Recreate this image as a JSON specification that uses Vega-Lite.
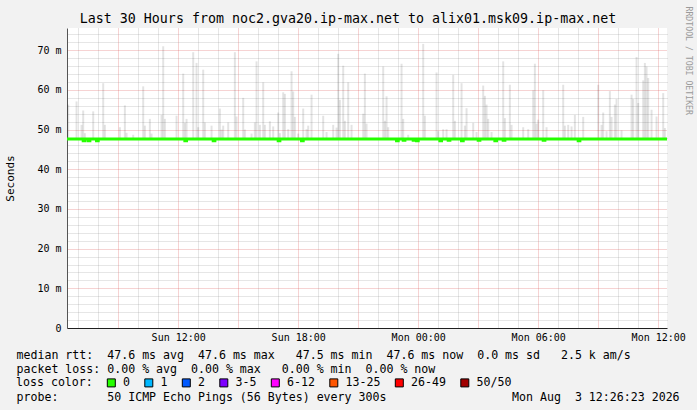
{
  "$schema": "https://vega.github.io/schema/vega-lite/v6.json",
  "width": 600,
  "height": 300,
  "autosize": "none",
  "padding": {"left": 67, "top": 28, "right": 30, "bottom": 82},
  "background": "#f2f2f2",
  "title": {
    "text": "Last 30 Hours from noc2.gva20.ip-max.net to alix01.msk09.ip-max.net",
    "anchor": "middle",
    "frame": "group",
    "dx": -19,
    "dy": 34,
    "offset": 4,
    "baseline": "alphabetic",
    "font": "DejaVu Sans Mono",
    "fontSize": 13.3,
    "fontWeight": "normal",
    "color": "#000000"
  },
  "config": {
    "view": {"fill": "#ffffff", "stroke": null},
    "font": "DejaVu Sans Mono"
  },
  "datasets": {
    "spikes": [
      {"t": "2026-08-02T06:30", "hi": 56.3},
      {"t": "2026-08-02T06:55", "hi": 57.1},
      {"t": "2026-08-02T07:10", "hi": 51.2},
      {"t": "2026-08-02T07:15", "hi": 54.8},
      {"t": "2026-08-02T07:20", "hi": 49.1},
      {"t": "2026-08-02T07:45", "hi": 54.6},
      {"t": "2026-08-02T08:15", "hi": 61.7},
      {"t": "2026-08-02T08:20", "hi": 51.2},
      {"t": "2026-08-02T09:05", "hi": 50.6},
      {"t": "2026-08-02T09:20", "hi": 56.1},
      {"t": "2026-08-02T09:25", "hi": 49.2},
      {"t": "2026-08-02T09:45", "hi": 48.7},
      {"t": "2026-08-02T10:15", "hi": 60.9},
      {"t": "2026-08-02T10:20", "hi": 51.0},
      {"t": "2026-08-02T10:35", "hi": 52.7},
      {"t": "2026-08-02T10:40", "hi": 49.0},
      {"t": "2026-08-02T11:10", "hi": 53.7},
      {"t": "2026-08-02T11:15", "hi": 71.0},
      {"t": "2026-08-02T11:20", "hi": 52.7},
      {"t": "2026-08-02T11:55", "hi": 53.5},
      {"t": "2026-08-02T12:15", "hi": 64.1},
      {"t": "2026-08-02T12:20", "hi": 51.7},
      {"t": "2026-08-02T12:25", "hi": 52.7},
      {"t": "2026-08-02T12:45", "hi": 69.5},
      {"t": "2026-08-02T12:55", "hi": 66.8},
      {"t": "2026-08-02T13:00", "hi": 50.6},
      {"t": "2026-08-02T13:15", "hi": 65.1},
      {"t": "2026-08-02T13:20", "hi": 51.8},
      {"t": "2026-08-02T13:40", "hi": 51.0},
      {"t": "2026-08-02T14:05", "hi": 55.3},
      {"t": "2026-08-02T14:10", "hi": 50.0},
      {"t": "2026-08-02T14:15", "hi": 51.0},
      {"t": "2026-08-02T14:30", "hi": 51.8},
      {"t": "2026-08-02T14:50", "hi": 69.5},
      {"t": "2026-08-02T14:55", "hi": 53.3},
      {"t": "2026-08-02T15:15", "hi": 58.0},
      {"t": "2026-08-02T15:20", "hi": 50.0},
      {"t": "2026-08-02T15:40", "hi": 49.0},
      {"t": "2026-08-02T15:50", "hi": 51.8},
      {"t": "2026-08-02T15:55", "hi": 67.2},
      {"t": "2026-08-02T16:05", "hi": 51.2},
      {"t": "2026-08-02T16:15", "hi": 61.9},
      {"t": "2026-08-02T16:20", "hi": 51.2},
      {"t": "2026-08-02T16:35", "hi": 52.1},
      {"t": "2026-08-02T16:45", "hi": 50.8},
      {"t": "2026-08-02T17:00", "hi": 54.3},
      {"t": "2026-08-02T17:05", "hi": 49.1},
      {"t": "2026-08-02T17:15", "hi": 59.4},
      {"t": "2026-08-02T17:20", "hi": 59.0},
      {"t": "2026-08-02T17:30", "hi": 50.1},
      {"t": "2026-08-02T17:40", "hi": 64.7},
      {"t": "2026-08-02T17:45", "hi": 59.6},
      {"t": "2026-08-02T17:50", "hi": 53.2},
      {"t": "2026-08-02T18:00", "hi": 49.0},
      {"t": "2026-08-02T18:15", "hi": 55.3},
      {"t": "2026-08-02T18:25", "hi": 50.1},
      {"t": "2026-08-02T18:30", "hi": 51.0},
      {"t": "2026-08-02T18:40", "hi": 58.8},
      {"t": "2026-08-02T19:15", "hi": 53.5},
      {"t": "2026-08-02T19:25", "hi": 49.4},
      {"t": "2026-08-02T19:45", "hi": 51.2},
      {"t": "2026-08-02T19:55", "hi": 50.5},
      {"t": "2026-08-02T20:00", "hi": 69.1},
      {"t": "2026-08-02T20:05", "hi": 57.5},
      {"t": "2026-08-02T20:15", "hi": 66.1},
      {"t": "2026-08-02T20:20", "hi": 52.2},
      {"t": "2026-08-02T20:30", "hi": 61.9},
      {"t": "2026-08-02T20:40", "hi": 51.2},
      {"t": "2026-08-02T21:15", "hi": 54.0},
      {"t": "2026-08-02T21:20", "hi": 64.1},
      {"t": "2026-08-02T21:25", "hi": 51.5},
      {"t": "2026-08-02T22:15", "hi": 65.9},
      {"t": "2026-08-02T22:20", "hi": 52.2},
      {"t": "2026-08-02T22:25", "hi": 58.4},
      {"t": "2026-08-02T22:30", "hi": 50.6},
      {"t": "2026-08-02T23:10", "hi": 66.6},
      {"t": "2026-08-02T23:15", "hi": 52.7},
      {"t": "2026-08-02T23:30", "hi": 48.7},
      {"t": "2026-08-03T00:15", "hi": 71.6},
      {"t": "2026-08-03T00:20", "hi": 53.5},
      {"t": "2026-08-03T00:55", "hi": 64.4},
      {"t": "2026-08-03T01:00", "hi": 49.6},
      {"t": "2026-08-03T01:15", "hi": 50.1},
      {"t": "2026-08-03T01:25", "hi": 50.1},
      {"t": "2026-08-03T01:45", "hi": 63.8},
      {"t": "2026-08-03T01:50", "hi": 52.2},
      {"t": "2026-08-03T02:10", "hi": 61.7},
      {"t": "2026-08-03T02:20", "hi": 51.0},
      {"t": "2026-08-03T02:25", "hi": 55.4},
      {"t": "2026-08-03T02:45", "hi": 51.7},
      {"t": "2026-08-03T02:55", "hi": 49.4},
      {"t": "2026-08-03T03:15", "hi": 61.1},
      {"t": "2026-08-03T03:20", "hi": 58.5},
      {"t": "2026-08-03T03:25", "hi": 56.3},
      {"t": "2026-08-03T03:30", "hi": 52.7},
      {"t": "2026-08-03T03:40", "hi": 49.4},
      {"t": "2026-08-03T04:15", "hi": 67.2},
      {"t": "2026-08-03T04:20", "hi": 52.9},
      {"t": "2026-08-03T04:35", "hi": 61.3},
      {"t": "2026-08-03T04:40", "hi": 51.2},
      {"t": "2026-08-03T05:15", "hi": 50.6},
      {"t": "2026-08-03T05:30", "hi": 50.1},
      {"t": "2026-08-03T05:45", "hi": 59.9},
      {"t": "2026-08-03T05:50", "hi": 66.6},
      {"t": "2026-08-03T05:55", "hi": 51.5},
      {"t": "2026-08-03T06:00", "hi": 52.5},
      {"t": "2026-08-03T06:15", "hi": 59.9},
      {"t": "2026-08-03T06:25", "hi": 50.6},
      {"t": "2026-08-03T07:15", "hi": 61.3},
      {"t": "2026-08-03T07:20", "hi": 51.0},
      {"t": "2026-08-03T07:30", "hi": 51.2},
      {"t": "2026-08-03T07:40", "hi": 50.8},
      {"t": "2026-08-03T07:50", "hi": 53.7},
      {"t": "2026-08-03T08:15", "hi": 53.2},
      {"t": "2026-08-03T09:00", "hi": 61.3},
      {"t": "2026-08-03T09:10", "hi": 51.2},
      {"t": "2026-08-03T09:15", "hi": 54.3},
      {"t": "2026-08-03T09:25", "hi": 49.6},
      {"t": "2026-08-03T09:35", "hi": 59.7},
      {"t": "2026-08-03T09:40", "hi": 53.2},
      {"t": "2026-08-03T09:50", "hi": 56.3},
      {"t": "2026-08-03T09:55", "hi": 57.7},
      {"t": "2026-08-03T10:10", "hi": 49.8},
      {"t": "2026-08-03T10:40", "hi": 58.8},
      {"t": "2026-08-03T10:45", "hi": 57.7},
      {"t": "2026-08-03T10:55", "hi": 68.3},
      {"t": "2026-08-03T11:00", "hi": 56.7},
      {"t": "2026-08-03T11:15", "hi": 62.4},
      {"t": "2026-08-03T11:20", "hi": 66.8},
      {"t": "2026-08-03T11:25", "hi": 65.9},
      {"t": "2026-08-03T11:30", "hi": 63.0},
      {"t": "2026-08-03T11:40", "hi": 55.0},
      {"t": "2026-08-03T11:55", "hi": 53.3},
      {"t": "2026-08-03T12:15", "hi": 59.2},
      {"t": "2026-08-03T12:20", "hi": 50.4}
    ],
    "median": [
      {"t": "2026-08-02T06:26:23", "med": 47.6, "loss": "0"},
      {"t": "2026-08-02T07:15", "med": 47.2, "loss": "0"},
      {"t": "2026-08-02T07:20", "med": 47.6, "loss": "0"},
      {"t": "2026-08-02T07:30", "med": 47.2, "loss": "0"},
      {"t": "2026-08-02T07:35", "med": 47.6, "loss": "0"},
      {"t": "2026-08-02T07:55", "med": 47.2, "loss": "0"},
      {"t": "2026-08-02T08:00", "med": 47.6, "loss": "0"},
      {"t": "2026-08-02T12:20", "med": 47.2, "loss": "0"},
      {"t": "2026-08-02T12:25", "med": 47.6, "loss": "0"},
      {"t": "2026-08-02T13:45", "med": 47.2, "loss": "0"},
      {"t": "2026-08-02T13:50", "med": 47.6, "loss": "0"},
      {"t": "2026-08-02T17:00", "med": 47.2, "loss": "0"},
      {"t": "2026-08-02T17:05", "med": 47.6, "loss": "0"},
      {"t": "2026-08-02T18:10", "med": 47.2, "loss": "0"},
      {"t": "2026-08-02T18:15", "med": 47.6, "loss": "0"},
      {"t": "2026-08-02T22:55", "med": 47.2, "loss": "0"},
      {"t": "2026-08-02T23:00", "med": 47.6, "loss": "0"},
      {"t": "2026-08-02T23:15", "med": 47.3, "loss": "0"},
      {"t": "2026-08-02T23:20", "med": 47.6, "loss": "0"},
      {"t": "2026-08-02T23:45", "med": 47.3, "loss": "0"},
      {"t": "2026-08-02T23:50", "med": 47.6, "loss": "0"},
      {"t": "2026-08-02T23:55", "med": 47.2, "loss": "0"},
      {"t": "2026-08-03T00:00", "med": 47.6, "loss": "0"},
      {"t": "2026-08-03T01:05", "med": 47.2, "loss": "0"},
      {"t": "2026-08-03T01:10", "med": 47.6, "loss": "0"},
      {"t": "2026-08-03T01:30", "med": 47.3, "loss": "0"},
      {"t": "2026-08-03T01:35", "med": 47.6, "loss": "0"},
      {"t": "2026-08-03T02:10", "med": 47.2, "loss": "0"},
      {"t": "2026-08-03T02:15", "med": 47.6, "loss": "0"},
      {"t": "2026-08-03T03:00", "med": 47.3, "loss": "0"},
      {"t": "2026-08-03T03:05", "med": 47.6, "loss": "0"},
      {"t": "2026-08-03T03:50", "med": 47.2, "loss": "0"},
      {"t": "2026-08-03T03:55", "med": 47.6, "loss": "0"},
      {"t": "2026-08-03T04:15", "med": 47.3, "loss": "0"},
      {"t": "2026-08-03T04:20", "med": 47.6, "loss": "0"},
      {"t": "2026-08-03T06:15", "med": 47.3, "loss": "0"},
      {"t": "2026-08-03T06:20", "med": 47.6, "loss": "0"},
      {"t": "2026-08-03T08:00", "med": 47.2, "loss": "0"},
      {"t": "2026-08-03T08:05", "med": 47.6, "loss": "0"},
      {"t": "2026-08-03T12:26:23", "med": 47.6, "loss": "0"}
    ]
  },
  "layer": [
    {
      "data": {"name": "spikes"},
      "mark": {"type": "bar", "width": 2, "color": "#000000", "opacity": 0.11},
      "encoding": {
        "x": {
          "field": "t",
          "type": "temporal",
          "scale": {
            "domain": [
              {"year": 2026, "month": 8, "date": 2, "hours": 6, "minutes": 26, "seconds": 23},
              {"year": 2026, "month": 8, "date": 3, "hours": 12, "minutes": 26, "seconds": 23}
            ],
            "nice": false,
            "padding": 0
          },
          "axis": {
            "orient": "bottom",
            "values": [
              {"year": 2026, "month": 8, "date": 2, "hours": 7},
              {"year": 2026, "month": 8, "date": 2, "hours": 8},
              {"year": 2026, "month": 8, "date": 2, "hours": 10},
              {"year": 2026, "month": 8, "date": 2, "hours": 11},
              {"year": 2026, "month": 8, "date": 2, "hours": 13},
              {"year": 2026, "month": 8, "date": 2, "hours": 14},
              {"year": 2026, "month": 8, "date": 2, "hours": 16},
              {"year": 2026, "month": 8, "date": 2, "hours": 17},
              {"year": 2026, "month": 8, "date": 2, "hours": 19},
              {"year": 2026, "month": 8, "date": 2, "hours": 20},
              {"year": 2026, "month": 8, "date": 2, "hours": 22},
              {"year": 2026, "month": 8, "date": 2, "hours": 23},
              {"year": 2026, "month": 8, "date": 3, "hours": 1},
              {"year": 2026, "month": 8, "date": 3, "hours": 2},
              {"year": 2026, "month": 8, "date": 3, "hours": 4},
              {"year": 2026, "month": 8, "date": 3, "hours": 5},
              {"year": 2026, "month": 8, "date": 3, "hours": 7},
              {"year": 2026, "month": 8, "date": 3, "hours": 8},
              {"year": 2026, "month": 8, "date": 3, "hours": 10},
              {"year": 2026, "month": 8, "date": 3, "hours": 11}
            ],
            "grid": true,
            "gridColor": "#8f8f8f",
            "gridOpacity": 0.45,
            "gridDash": [1, 1],
            "labels": false,
            "ticks": false,
            "domain": false,
            "title": "probe:\u00a0\u00a0\u00a0\u00a0\u00a0\u00a0\u00a050 ICMP Echo Pings (56 Bytes) every 300s\u00a0\u00a0\u00a0\u00a0\u00a0\u00a0\u00a0\u00a0\u00a0\u00a0\u00a0\u00a0\u00a0\u00a0\u00a0\u00a0\u00a0\u00a0Mon Aug\u00a0\u00a03 12:26:23 2026",
            "titleX": -51,
            "titleY": 72.3,
            "titleAlign": "left",
            "titleAnchor": "start",
            "titleBaseline": "alphabetic",
            "titleFont": "DejaVu Sans Mono",
            "titleFontSize": 11.6,
            "titleFontWeight": "normal",
            "titleColor": "#000000"
          }
        },
        "y": {
          "field": "hi",
          "type": "quantitative",
          "scale": {"domain": [0, 75.6], "nice": false, "zero": true},
          "axis": {
            "orient": "right",
            "values": [2, 4, 6, 8, 12, 14, 16, 18, 22, 24, 26, 28, 32, 34, 36, 38, 42, 44, 46, 48, 52, 54, 56, 58, 62, 64, 66, 68, 72, 74],
            "grid": true,
            "gridColor": "#8f8f8f",
            "gridOpacity": 0.45,
            "gridDash": [1, 1],
            "labels": false,
            "ticks": false,
            "domain": false,
            "title": "RRDTOOL / TOBI OETIKER",
            "titleAngle": 90,
            "titleX": 20.5,
            "titleY": -22,
            "titleAlign": "left",
            "titleBaseline": "middle",
            "titleFont": "DejaVu Sans Mono",
            "titleFontSize": 8.2,
            "titleFontWeight": "normal",
            "titleColor": "#9a9a9a"
          }
        },
        "y2": {"datum": 47.6}
      }
    },
    {
      "data": {"name": "median"},
      "mark": {"type": "line", "strokeWidth": 3, "interpolate": "step-after", "color": "#26ff00"},
      "encoding": {
        "x": {
          "field": "t",
          "type": "temporal",
          "axis": {
            "orient": "bottom",
            "values": [
              {"year": 2026, "month": 8, "date": 2, "hours": 9},
              {"year": 2026, "month": 8, "date": 2, "hours": 12},
              {"year": 2026, "month": 8, "date": 2, "hours": 15},
              {"year": 2026, "month": 8, "date": 2, "hours": 18},
              {"year": 2026, "month": 8, "date": 2, "hours": 21},
              {"year": 2026, "month": 8, "date": 3, "hours": 0},
              {"year": 2026, "month": 8, "date": 3, "hours": 3},
              {"year": 2026, "month": 8, "date": 3, "hours": 6},
              {"year": 2026, "month": 8, "date": 3, "hours": 9},
              {"year": 2026, "month": 8, "date": 3, "hours": 12}
            ],
            "grid": true,
            "gridColor": "#de4f4f",
            "gridOpacity": 0.5,
            "gridDash": [1, 1],
            "ticks": false,
            "tickSize": 0,
            "labelExpr": "hours(datum.value) % 6 == 0 ? timeFormat(datum.value, '%a %H:%M') : ''",
            "labelFont": "DejaVu Sans Mono",
            "labelFontSize": 10,
            "labelColor": "#000000",
            "labelPadding": 4,
            "labelFlush": false,
            "labelOverlap": false,
            "labelBound": false,
            "domain": true,
            "domainColor": "#1f1f1f",
            "domainWidth": 1,
            "title": [
              "median rtt:\u00a0\u00a047.6 ms avg\u00a0\u00a047.6 ms max\u00a0\u00a0\u00a047.5 ms min\u00a0\u00a047.6 ms now\u00a0\u00a00.0 ms sd\u00a0\u00a0\u00a02.5 k am/s",
              "packet loss: 0.00 % avg\u00a0\u00a00.00 % max\u00a0\u00a0\u00a00.00 % min\u00a0\u00a00.00 % now"
            ],
            "titleX": -51,
            "titleY": 30.3,
            "titleAlign": "left",
            "titleAnchor": "start",
            "titleBaseline": "alphabetic",
            "titleLineHeight": 14,
            "titleFont": "DejaVu Sans Mono",
            "titleFontSize": 11.6,
            "titleFontWeight": "normal",
            "titleColor": "#000000"
          }
        },
        "y": {
          "field": "med",
          "type": "quantitative",
          "axis": {
            "orient": "left",
            "values": [0, 10, 20, 30, 40, 50, 60, 70],
            "grid": true,
            "gridColor": "#de4f4f",
            "gridOpacity": 0.5,
            "gridDash": [1, 1],
            "ticks": false,
            "tickSize": 0,
            "labelExpr": "datum.value == 0 ? '0' : datum.value + ' m'",
            "labelFont": "DejaVu Sans Mono",
            "labelFontSize": 10,
            "labelColor": "#000000",
            "labelPadding": 6,
            "labelOverlap": false,
            "labelBound": false,
            "domain": true,
            "domainColor": "#555555",
            "domainWidth": 1,
            "title": "Seconds",
            "titleX": -57,
            "titleY": 150,
            "titleAngle": 270,
            "titleAlign": "center",
            "titleBaseline": "middle",
            "titleFont": "DejaVu Sans Mono",
            "titleFontSize": 11,
            "titleFontWeight": "normal",
            "titleColor": "#000000"
          }
        }
      }
    },
    {
      "data": {"name": "median"},
      "mark": {"type": "square", "filled": true, "size": 0},
      "encoding": {
        "x": {"field": "t", "type": "temporal", "axis": null},
        "y": {"field": "med", "type": "quantitative", "axis": null},
        "color": {
          "field": "loss",
          "type": "nominal",
          "scale": {
            "domain": ["0", "1", "2", "3-5", "6-12", "13-25", "26-49", "50/50"],
            "range": ["#26ff00", "#00b8ff", "#0059ff", "#7e00ff", "#ff00ff", "#ff5500", "#ff0000", "#a10000"]
          },
          "legend": {
            "orient": "none",
            "legendX": -51,
            "legendY": 349,
            "direction": "horizontal",
            "title": "loss color:",
            "titleOrient": "left",
            "titlePadding": 12.5,
            "titleFont": "DejaVu Sans Mono",
            "titleFontSize": 11.6,
            "titleFontWeight": "normal",
            "titleColor": "#000000",
            "labelFont": "DejaVu Sans Mono",
            "labelFontSize": 11.6,
            "labelColor": "#000000",
            "labelOffset": 6,
            "labelLimit": 0,
            "columnPadding": 11.5,
            "rowPadding": 0,
            "padding": 0,
            "symbolType": "square",
            "symbolSize": 64,
            "symbolStrokeWidth": 1,
            "symbolStrokeColor": "#000000",
            "symbolOpacity": 1
          }
        }
      }
    }
  ],
  "resolve": {"axis": {"x": "independent", "y": "independent"}}
}
